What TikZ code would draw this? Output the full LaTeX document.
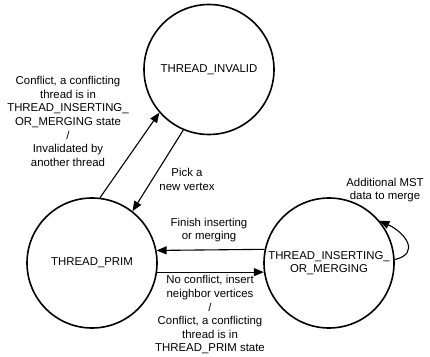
\documentclass[tikz,border=0pt]{standalone}
\usepackage{fontspec}
\setmainfont{Liberation Sans}
\usetikzlibrary{arrows.meta}
\begin{document}
\begin{tikzpicture}[x=1pt,y=1pt,
  state/.style={draw, circle, line width=1.6pt, minimum size=130pt, inner sep=0pt,
    align=center, font=\fontsize{11.4}{13.6}\selectfont},
  lbl/.style={align=center, inner sep=0pt, font=\fontsize{11.4}{13.6}\selectfont},
  arr/.style={line width=1.1pt, -{Triangle[length=10pt,width=8pt]}}]
\useasboundingbox (0,0) rectangle (430,356);
\fill[white] (0,0) rectangle (430,356);

% states
\node[state] (inv)  at (209,286.5) {THREAD\_INVALID};
\node[state] (prim) at (92,93)     {THREAD\_PRIM};
\node[state] (ins)  at (329,93)    {THREAD\_INSERTING\_\\OR\_MERGING};

% transitions
\draw[arr] (prim.83)    -- (inv.221);
\draw[arr] (inv.247)    -- (prim.52);
\draw[arr] (ins.168.5)  -- (prim.11.5);
\draw[arr] (prim.-8)    -- (ins.188);
\draw[arr] (ins.3) .. controls +(26,6) and +(26,-12) .. (ins.40);

% transition labels
\node[lbl] (l1) at (68,234.5) {Conflict, a conflicting\\thread is in\\THREAD\_INSERTING\_\\OR\_MERGING state\\/\\Invalidated by\\another thread};
\node[lbl] (l2) at (187,176.5) {Pick a\\new vertex};
\node[lbl] (l3) at (209,126) {Finish inserting\\or merging};
\node[lbl] (l4) at (210,41) {No conflict, insert\\neighbor vertices\\/\\Conflict, a conflicting\\thread is in\\THREAD\_PRIM state};
\node[lbl] (l5) at (385,166) {Additional MST\\data to merge};
\end{tikzpicture}
\end{document}
